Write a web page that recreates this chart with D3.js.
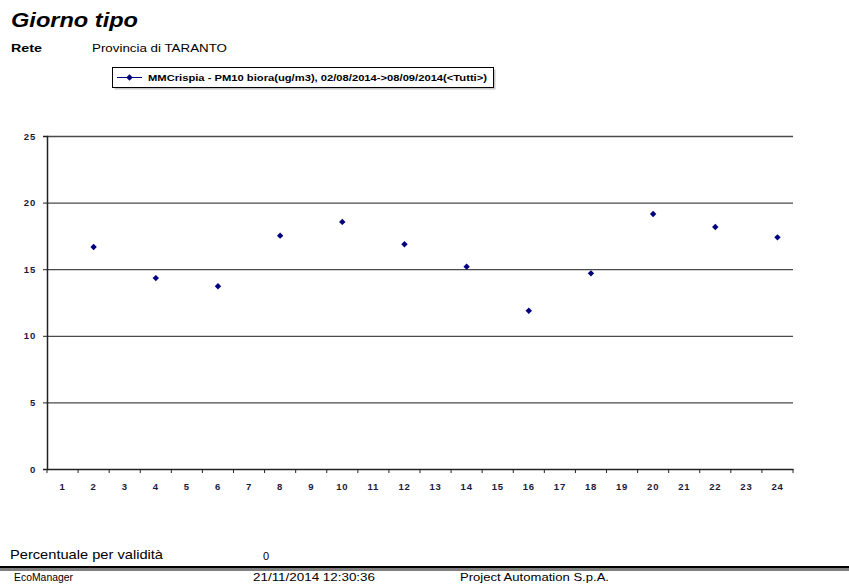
<!DOCTYPE html>
<html><head><meta charset="utf-8">
<script src="https://cdn.jsdelivr.net/npm/d3@7"></script>
<style>body{margin:0;background:#fff;}svg{display:block;font-family:Arial,"Liberation Sans",sans-serif;}</style>
</head><body>
<svg id="c" width="849" height="584"></svg>
<script>
const hours = d3.range(1, 25).map(String);
const xTickLabels = hours;
const yTicks = [0, 5, 10, 15, 20, 25];
const pointHours = ["2","4","6","8","10","12","14","16","18","20","22","24"];
const pm10Values = [16.67, 14.33, 13.72, 17.52, 18.55, 16.87, 15.19, 11.88, 14.69, 19.14, 18.17, 17.39];
const seriesName = "MMCrispia - PM10 biora(ug/m3), 02/08/2014->08/09/2014(<Tutti>)";

const svg = d3.select("#c");
const L = 47, R = 793, T = 136, B = 469;
const x = d3.scaleBand().domain(hours).range([L, R]);
const y = d3.scaleLinear().domain([0, 25]).range([B, T]);

function stretched(sel, len) {
  return sel.attr("textLength", len).attr("lengthAdjust", "spacingAndGlyphs");
}
const diamond = "M0,-3.2L3.2,0L0,3.2L-3.2,0Z";

// Title & header
stretched(svg.append("text").attr("x", 11).attr("y", 27).attr("font-size", 21).attr("font-weight", "bold").attr("font-style", "italic").text("Giorno tipo"), 127);
stretched(svg.append("text").attr("x", 11).attr("y", 52).attr("font-size", 10.5).attr("font-weight", "bold").text("Rete"), 31);
stretched(svg.append("text").attr("x", 92).attr("y", 52).attr("font-size", 10).text("Provincia di TARANTO"), 135);

// Legend
const lg = svg.append("g");
lg.append("rect").attr("x", 114.5).attr("y", 69.5).attr("width", 381).attr("height", 20).attr("fill", "#c8c8c8");
lg.append("rect").attr("x", 112.5).attr("y", 67.5).attr("width", 381).attr("height", 20).attr("fill", "#fff").attr("stroke", "#000").attr("stroke-width", 1);
lg.append("line").attr("x1", 117).attr("x2", 142).attr("y1", 77.5).attr("y2", 77.5).attr("stroke", "#00007f").attr("stroke-width", 1);
lg.append("path").attr("d", diamond).attr("transform", "translate(129.5,77.5)").attr("fill", "#00007f");
stretched(lg.append("text").attr("x", 148).attr("y", 81).attr("font-size", 9.5).attr("font-weight", "bold").text(seriesName), 339);

// Gridlines
svg.append("g").selectAll("line").data(yTicks.filter(d => d > 0)).join("line")
  .attr("x1", L).attr("x2", R).attr("y1", d => y(d) + 0.5).attr("y2", d => y(d) + 0.5)
  .attr("stroke", "#4a4a4a").attr("stroke-width", 1.3);

// Y axis
const ya = svg.append("g").attr("transform", `translate(${L},0)`)
  .call(d3.axisLeft(y).tickValues(yTicks).tickSize(4).tickPadding(7).tickFormat(d3.format("d")));
ya.select(".domain").attr("stroke", "#222").attr("stroke-width", 1.5);
ya.selectAll(".tick line").attr("stroke", "#222");
ya.selectAll("text").attr("font-size", 9.5).attr("font-weight", "bold").attr("fill", "#1a1a3a")
  .attr("letter-spacing", 0.8).attr("font-family", "Arial, 'Liberation Sans', sans-serif");

// X axis
const xa = svg.append("g").attr("transform", `translate(0,${B})`)
  .call(d3.axisBottom(x).tickValues(xTickLabels).tickSize(0).tickPadding(14).tickSizeOuter(0));
xa.select(".domain").attr("stroke", "#222").attr("stroke-width", 1.5);
xa.selectAll("text").attr("font-size", 9.5).attr("font-weight", "bold").attr("fill", "#1a1a3a")
  .attr("letter-spacing", 0.8).attr("font-family", "Arial, 'Liberation Sans', sans-serif");
// boundary ticks
const bounds = hours.map(h => x(h)).concat([x(hours[hours.length - 1]) + x.bandwidth()]);
svg.append("g").selectAll("line").data(bounds).join("line")
  .attr("x1", d => d).attr("x2", d => d).attr("y1", B).attr("y2", B + 4)
  .attr("stroke", "#222").attr("stroke-width", 1);

// Points
svg.append("g").selectAll("path").data(pointHours.map((h, i) => ({h, v: pm10Values[i]}))).join("path")
  .attr("d", diamond)
  .attr("transform", d => `translate(${x(d.h) + x.bandwidth() / 2},${y(d.v)})`)
  .attr("fill", "#00007f");

// Footer
stretched(svg.append("text").attr("x", 10).attr("y", 559).attr("font-size", 13).text("Percentuale per validità"), 153);
svg.append("text").attr("x", 263).attr("y", 560).attr("font-size", 11).text("0");
svg.append("rect").attr("x", 0).attr("y", 566).attr("width", 849).attr("height", 2.5).attr("fill", "#000");
svg.append("rect").attr("x", 0).attr("y", 569.5).attr("width", 849).attr("height", 1).attr("fill", "#000");
stretched(svg.append("text").attr("x", 14).attr("y", 581).attr("font-size", 11.5).text("EcoManager"), 59);
stretched(svg.append("text").attr("x", 253).attr("y", 581).attr("font-size", 11.5).text("21/11/2014 12:30:36"), 122);
stretched(svg.append("text").attr("x", 460).attr("y", 581).attr("font-size", 11.5).text("Project Automation S.p.A."), 149);
</script>
</body></html>
